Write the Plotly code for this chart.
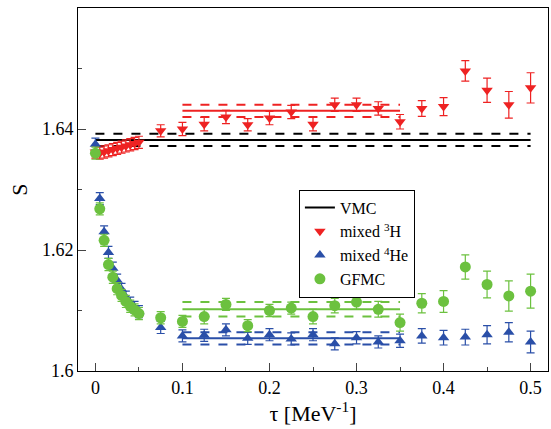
import plotly.graph_objects as go

tau_s = [0, 0.005, 0.01, 0.015, 0.02, 0.025, 0.03, 0.035, 0.04, 0.045, 0.05]
tau_l = [0.075, 0.1, 0.125, 0.15, 0.175, 0.2, 0.225, 0.25, 0.275, 0.3, 0.325, 0.35, 0.375, 0.4, 0.425, 0.45, 0.475, 0.5]

h3_s = [1.6362, 1.6360, 1.6362, 1.6364, 1.6366, 1.6368, 1.6370, 1.6372, 1.6374, 1.6376, 1.6378]
h3_l = [1.6397, 1.6400, 1.6408, 1.6420, 1.6407, 1.6418, 1.6428, 1.6408, 1.6440, 1.6440, 1.6434, 1.6412, 1.6434, 1.6437, 1.6496, 1.6464, 1.6440, 1.6468]
h3_e = [0.0010]*11 + [0.0010, 0.0011, 0.0011, 0.0011, 0.0010, 0.0011, 0.0011, 0.0011, 0.0011, 0.0011, 0.0011, 0.0012, 0.0013, 0.0015, 0.0017, 0.0020, 0.0022, 0.0025]

he4_s = [1.6375, 1.6285, 1.6230, 1.6196, 1.6170, 1.6150, 1.6135, 1.6122, 1.6112, 1.6105, 1.6098]
he4_l = [1.6072, 1.6058, 1.6059, 1.6068, 1.6054, 1.6060, 1.6053, 1.6060, 1.6045, 1.6055, 1.6048, 1.6050, 1.6058, 1.6055, 1.6056, 1.6060, 1.6064, 1.6048]
he4_e = [0.0010]*11 + [0.0010, 0.0010, 0.0010, 0.0010, 0.0010, 0.0010, 0.0010, 0.0010, 0.0010, 0.0010, 0.0010, 0.0011, 0.0012, 0.0012, 0.0013, 0.0015, 0.0016, 0.0018]

gf_s = [1.6360, 1.6268, 1.6216, 1.6176, 1.6155, 1.6136, 1.6125, 1.6115, 1.6107, 1.6101, 1.6095]
gf_l = [1.6088, 1.6082, 1.6090, 1.6110, 1.6075, 1.6100, 1.6104, 1.6090, 1.6108, 1.6114, 1.6102, 1.6080, 1.6112, 1.6115, 1.6172, 1.6143, 1.6124, 1.6132]
gf_e = [0.0010]*11 + [0.0010, 0.0010, 0.0012, 0.0010, 0.0010, 0.0010, 0.0010, 0.0012, 0.0012, 0.0012, 0.0013, 0.0014, 0.0016, 0.0018, 0.0020, 0.0022, 0.0025, 0.0028]

vmc = [1.6382, 0.0010]
fit_h3 = [1.6430, 0.0010]
fit_he4 = [1.6054, 0.0010]
fit_gf = [1.6102, 0.0012]
fit_range = [0.1, 0.35]
vmc_range = [0.0, 0.5]

RED = "#ee2222"; BLUE = "#2a4fa8"; GREEN = "#6cc13f"
fig = go.Figure()

def band(xr, c, col, name=None, show=False):
    v, e = c
    fig.add_trace(go.Scatter(x=xr, y=[v, v], mode="lines", line=dict(color=col, width=2),
                             name=name, showlegend=show))
    for s in (-1, 1):
        fig.add_trace(go.Scatter(x=xr, y=[v+s*e]*2, mode="lines",
                                 line=dict(color=col, width=2, dash="dash"), showlegend=False))

band(vmc_range, vmc, "black", "VMC", True)
band(fit_range, fit_h3, RED)
band(fit_range, fit_he4, BLUE)
band(fit_range, fit_gf, GREEN)

def pts(y, e, col, sym, name, size):
    fig.add_trace(go.Scatter(x=tau_s+tau_l, y=y, mode="markers", name=name,
                             marker=dict(symbol=sym, color=col, size=size),
                             error_y=dict(type="data", array=e, color=col, thickness=1.2, width=4)))

pts(h3_s+h3_l, h3_e, RED, "triangle-down", "mixed <sup>3</sup>H", 10)
pts(he4_s+he4_l, he4_e, BLUE, "triangle-up", "mixed <sup>4</sup>He", 10)
pts(gf_s+gf_l, gf_e, GREEN, "circle", "GFMC", 11)

fig.update_layout(
    width=551, height=429, plot_bgcolor="white", paper_bgcolor="white",
    margin=dict(l=78, r=3, t=8, b=58),
    font=dict(family="Liberation Serif", size=18, color="black"),
    legend=dict(x=0.47, y=0.5, xanchor="left", yanchor="top", bgcolor="white",
                bordercolor="black", borderwidth=1, font=dict(size=16), tracegroupgap=0),
    xaxis=dict(range=[-0.02, 0.52], tickvals=[0, 0.1, 0.2, 0.3, 0.4, 0.5],
               ticktext=["0", "0.1", "0.2", "0.3", "0.4", "0.5"],
               ticks="inside", ticklen=8, showline=True, linecolor="black", mirror=True,
               showgrid=False, zeroline=False,
               minor=dict(tickvals=[0.05, 0.15, 0.25, 0.35, 0.45], ticks="inside", ticklen=4),
               title=dict(text="τ [MeV<sup>-1</sup>]", standoff=5)),
    yaxis=dict(range=[1.6, 1.66], tickvals=[1.6, 1.62, 1.64, 1.66],
               ticktext=["1.6", "1.62", "1.64", "1.66"],
               ticks="inside", ticklen=8, showline=True, linecolor="black", mirror=True,
               showgrid=False, zeroline=False,
               minor=dict(tickvals=[1.61, 1.63, 1.65], ticks="inside", ticklen=4),
               title=dict(text="S", standoff=8)),
)
fig.write_html("out.html", config={"displayModeBar": False},
               post_script="document.body.style.margin='0';document.body.style.overflow='hidden';")
